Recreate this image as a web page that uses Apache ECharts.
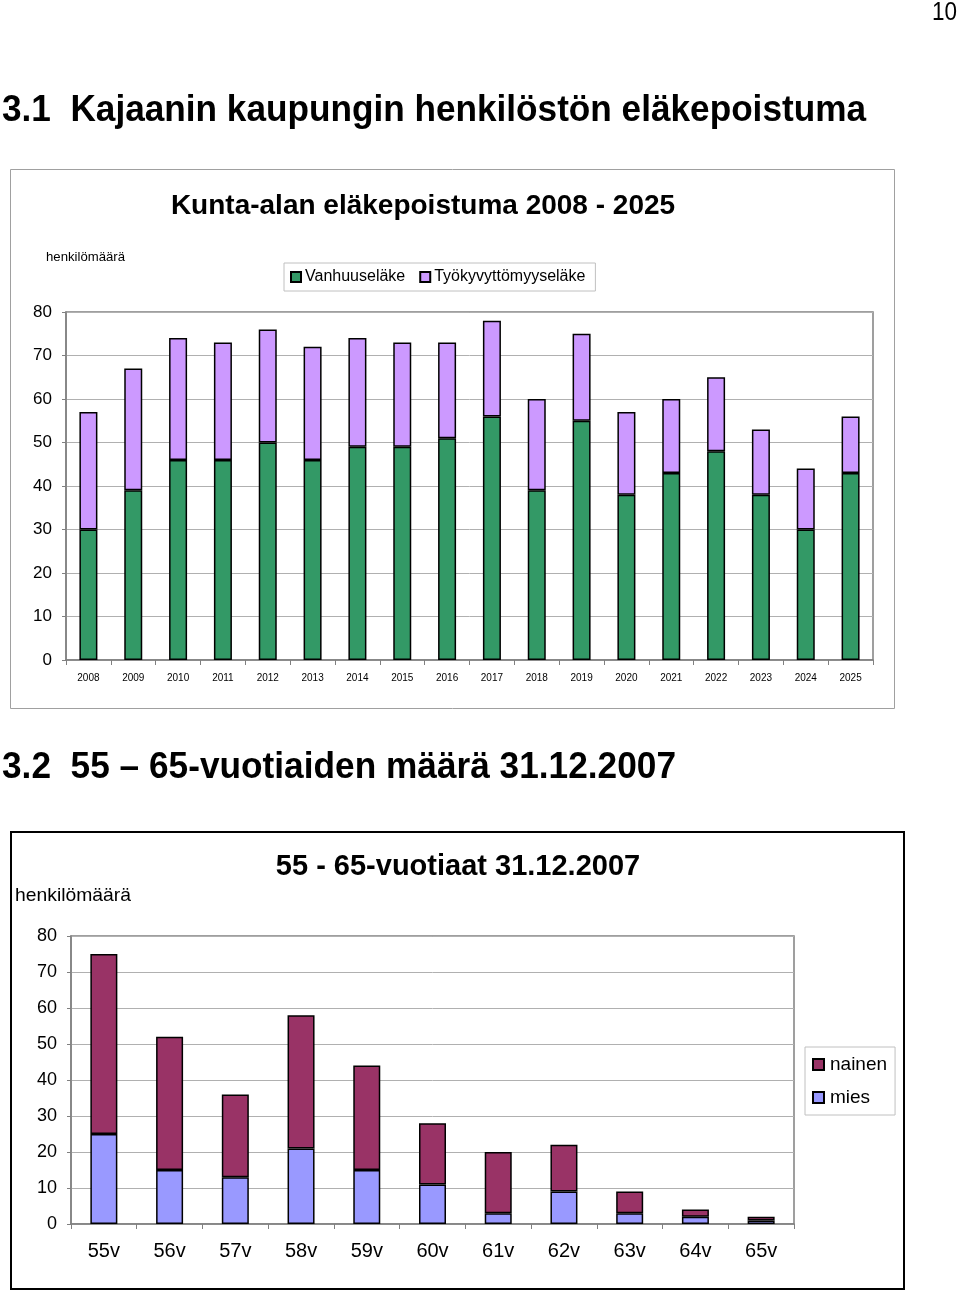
<!DOCTYPE html>
<html><head><meta charset="utf-8">
<script src="https://cdn.jsdelivr.net/npm/echarts@6/dist/echarts.min.js"></script>
<style>html,body{margin:0;padding:0;background:#fff}#c{width:960px;height:1291px}</style>
</head><body><div id="c"></div>
<script>
const years = ['2008','2009','2010','2011','2012','2013','2014','2015','2016','2017','2018','2019','2020','2021','2022','2023','2024','2025'];
const vanhuus = [30,39,46,46,50,46,49,49,51,56,39,55,38,43,48,38,30,43];
const tyokyvyttomyys = [27,28,28,27,26,26,25,24,22,22,21,20,19,17,17,15,14,13];
const ages = ['55v','56v','57v','58v','59v','60v','61v','62v','63v','64v','65v'];
const mies = [25,15,13,21,15,11,3,9,3,2,1];
const nainen = [50,37,23,37,29,17,17,13,6,2,1];

const ax = 'Arial, "Liberation Sans", sans-serif';
const mctx = document.createElement('canvas').getContext('2d');
function fitScale(text, size, weight, target){
  mctx.font = weight + ' ' + size + 'px ' + ax;
  return target / mctx.measureText(text).width;
}
function txt(text, x, y, size, weight, opts){
  opts = opts || {};
  const g = {type:'text', x:x, y:y, z:10,
    style:{text:text, fontFamily:ax, fontSize:size, fontWeight:weight, fill:'#000',
      textAlign:opts.align||'left', textVerticalAlign:'middle'}};
  if (opts.width) { g.scaleX = fitScale(text, size, weight, opts.width); }
  return g;
}
const h1 = '3.1  Kajaanin kaupungin henkilöstön eläkepoistuma';
const h2 = '3.2  55 – 65-vuotiaiden määrä 31.12.2007';

const chart = echarts.init(document.getElementById('c'), null, {renderer:'canvas'});
chart.setOption({
  animation:false,
  backgroundColor:'#fff',
  graphic:[
    {type:'rect', shape:{x:10.5,y:169.5,width:884,height:539}, style:{fill:'none',stroke:'#a0a0a0',lineWidth:1}, z:0},
    {type:'rect', shape:{x:11,y:832,width:893,height:457}, style:{fill:'none',stroke:'#000',lineWidth:2}, z:0},
    txt('10', 932, 13, 26, 'normal', {width:25}),
    txt(h1, 2, 111, 37, 'bold', {width:864}),
    txt('Kunta-alan eläkepoistuma 2008 - 2025', 423, 206, 28, 'bold', {align:'center'}),
    txt('henkilömäärä', 46, 257, 13, 'normal', {width:79}),
    txt(h2, 2, 768, 37, 'bold', {width:674}),
    txt('55 - 65-vuotiaat 31.12.2007', 458, 867, 29, 'bold', {align:'center'}),
    txt('henkilömäärä', 15, 896, 19, 'normal', {width:116})
  ],
  legend:[
    {data:['Vanhuuseläke','Työkyvyttömyyseläke'], left:284, top:263, orient:'horizontal', icon:'rect',
     itemWidth:10, itemHeight:10, itemGap:14, padding:[6,10,6,6], borderColor:'#c0c0c0', borderWidth:1,
     textStyle:{fontFamily:ax, fontSize:16, color:'#000', padding:[0,0,0,-1]}},
    {data:['nainen','mies'], left:805, top:1047, orient:'vertical', icon:'rect',
     itemWidth:11, itemHeight:11, itemGap:14, padding:[8,8,8,7], borderColor:'#c0c0c0', borderWidth:1,
     textStyle:{fontFamily:ax, fontSize:19, color:'#000', padding:[0,0,0,1]}}
  ],
  grid:[
    {left:66, top:312, width:807, height:348, show:true, borderColor:'#808080', borderWidth:1.5, backgroundColor:'transparent'},
    {left:71, top:936, width:723, height:288, show:true, borderColor:'#808080', borderWidth:1.5, backgroundColor:'transparent'}
  ],
  xAxis:[
    {type:'category', gridIndex:0, data:years, axisLine:{lineStyle:{color:'#808080',width:1.5}},
     axisTick:{show:true, length:5, lineStyle:{color:'#808080'}},
     axisLabel:{fontFamily:ax, fontSize:10, color:'#000', margin:13}},
    {type:'category', gridIndex:1, data:ages, axisLine:{lineStyle:{color:'#808080',width:1.5}},
     axisTick:{show:true, length:5, lineStyle:{color:'#808080'}},
     axisLabel:{fontFamily:ax, fontSize:20, color:'#000', margin:17}}
  ],
  yAxis:[
    {type:'value', gridIndex:0, min:0, max:80, interval:10,
     axisLine:{show:true, lineStyle:{color:'#808080',width:1.5}},
     axisTick:{show:true, length:4, lineStyle:{color:'#808080'}},
     splitLine:{lineStyle:{color:'#b0b0b0', width:1}},
     axisLabel:{fontFamily:ax, fontSize:17, color:'#000', margin:14}},
    {type:'value', gridIndex:1, min:0, max:80, interval:10,
     axisLine:{show:true, lineStyle:{color:'#808080',width:1.5}},
     axisTick:{show:true, length:4, lineStyle:{color:'#808080'}},
     splitLine:{lineStyle:{color:'#b0b0b0', width:1}},
     axisLabel:{fontFamily:ax, fontSize:18, color:'#000', margin:14}}
  ],
  series:[
    {name:'Vanhuuseläke', type:'bar', stack:'a', xAxisIndex:0, yAxisIndex:0, data:vanhuus, barWidth:18,
     itemStyle:{color:'#339966', borderColor:'#000', borderWidth:1.5}},
    {name:'Työkyvyttömyyseläke', type:'bar', stack:'a', xAxisIndex:0, yAxisIndex:0, data:tyokyvyttomyys, barWidth:18,
     itemStyle:{color:'#CC99FF', borderColor:'#000', borderWidth:1.5}},
    {name:'mies', type:'bar', stack:'b', xAxisIndex:1, yAxisIndex:1, data:mies, barWidth:27,
     itemStyle:{color:'#9999FF', borderColor:'#000', borderWidth:1.5}},
    {name:'nainen', type:'bar', stack:'b', xAxisIndex:1, yAxisIndex:1, data:nainen, barWidth:27,
     itemStyle:{color:'#993366', borderColor:'#000', borderWidth:1.5}}
  ]
});
</script></body></html>
